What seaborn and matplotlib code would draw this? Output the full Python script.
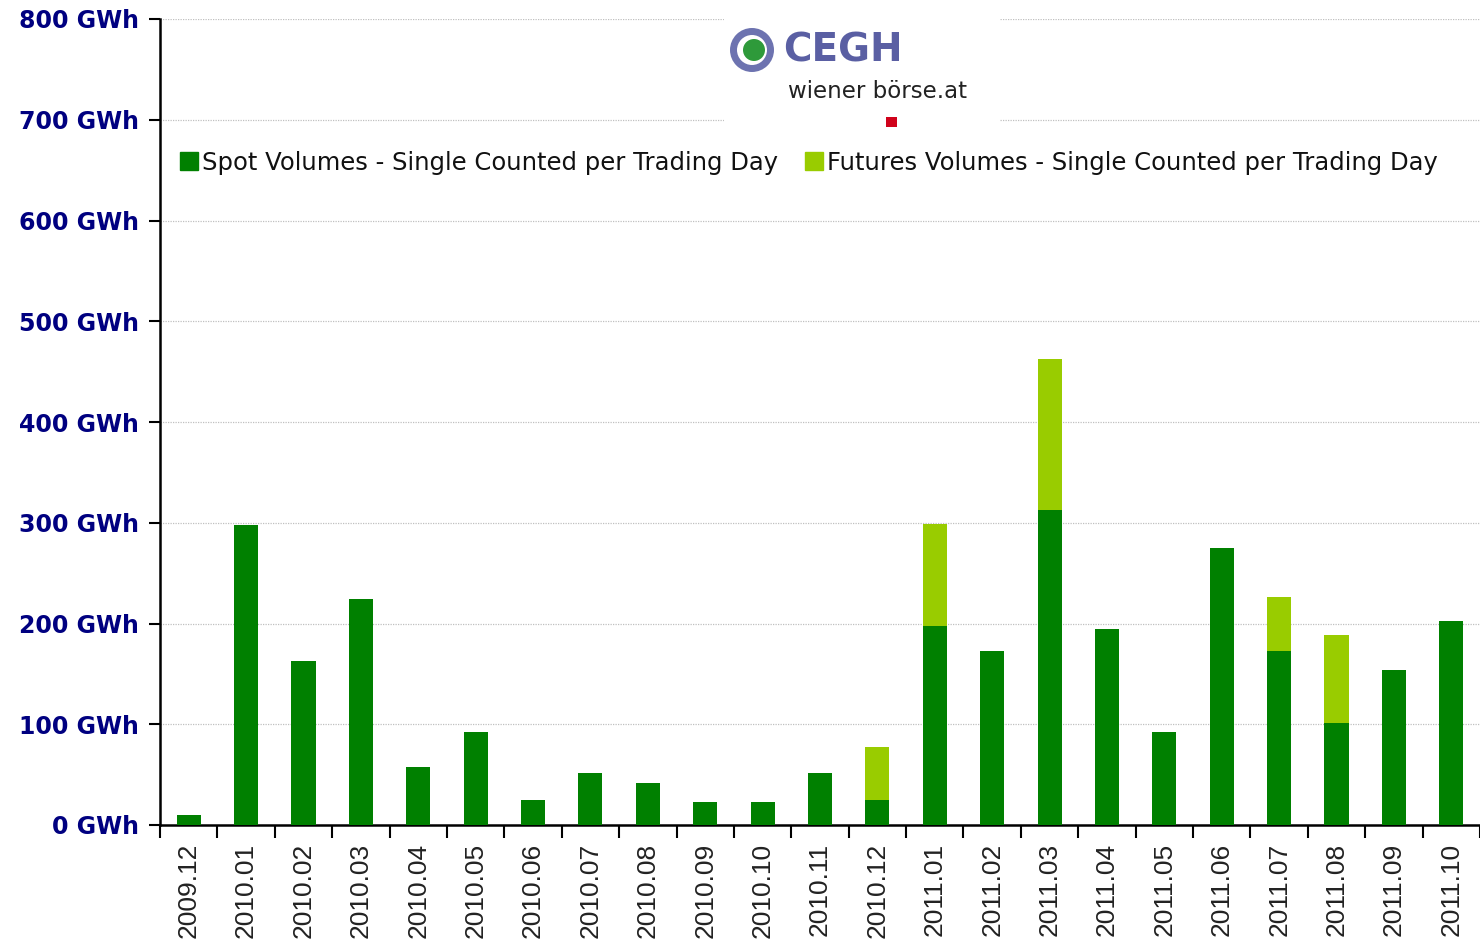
import matplotlib
matplotlib.use("Agg")
import matplotlib.pyplot as plt
import seaborn as sns
import pandas as pd
import numpy as np
from matplotlib.patches import Rectangle, Circle
from matplotlib.lines import Line2D

months = ["2009.12", "2010.01", "2010.02", "2010.03", "2010.04", "2010.05", "2010.06",
          "2010.07", "2010.08", "2010.09", "2010.10", "2010.11", "2010.12", "2011.01",
          "2011.02", "2011.03", "2011.04", "2011.05", "2011.06", "2011.07", "2011.08",
          "2011.09", "2011.10"]
spot = [10, 298, 163, 224, 58, 92, 25, 52, 42, 23, 23, 52, 25, 198,
        173, 313, 195, 92, 275, 173, 101, 154, 202]
futures = [0, 0, 0, 0, 0, 0, 0, 0, 0, 0, 0, 0, 52, 101,
           0, 150, 0, 0, 0, 53, 88, 0, 0]
y_ticks = [0, 100, 200, 300, 400, 500, 600, 700, 800]
y_labels = [f"{v} GWh" for v in y_ticks]

spot_name = "Spot Volumes - Single Counted per Trading Day"
fut_name = "Futures Volumes - Single Counted per Trading Day"
SPOT_C = "#008000"
FUT_C = "#99CC00"

df = pd.DataFrame({"month": months, "spot": spot, "futures": futures})
df["total"] = df["spot"] + df["futures"]

sns.set_style("white")
plt.rcParams["font.family"] = ["DejaVu Sans"]

fig = plt.figure(figsize=(14.8, 9.44), dpi=100)
ax = fig.add_axes([160 / 1480, 1 - 825 / 944, 1 - 160 / 1480, (825 - 19) / 944])

sns.barplot(data=df, x="month", y="total", color=FUT_C, width=0.42, saturation=1,
            ax=ax, zorder=3, linewidth=0, edgecolor="none")
sns.barplot(data=df, x="month", y="spot", color=SPOT_C, width=0.42, saturation=1,
            ax=ax, zorder=4, linewidth=0, edgecolor="none")

ax.set_xlim(-0.5, len(months) - 0.5)
ax.set_ylim(0, 800)
ax.set_xlabel("")
ax.set_ylabel("")

ax.set_yticks(y_ticks)
ax.set_yticklabels(y_labels, fontsize=17, fontweight="bold", color="#000080")
ax.tick_params(axis="y", direction="out", length=8, width=1.5, color="black", pad=7, left=True)

ax.set_xticks(range(len(months)))
ax.set_xticklabels(months, rotation=90, fontsize=19, family="Liberation Sans", color="#222222")
ax.tick_params(axis="x", which="major", length=0, pad=13)
ax.set_xticks(np.arange(-0.5, len(months)), minor=True)
ax.tick_params(axis="x", which="minor", direction="out", length=9, width=1.5, color="black", bottom=True)

for v in y_ticks[1:]:
    ax.axhline(v, color="#c0c0c0", lw=0.9, ls=(0, (1, 1)), zorder=1)

for s in ["top", "right"]:
    ax.spines[s].set_visible(False)
for s in ["left", "bottom"]:
    ax.spines[s].set_color("black")
    ax.spines[s].set_linewidth(1.8)

handles = [Line2D([], [], marker="s", ls="", markersize=13, markerfacecolor=SPOT_C, markeredgecolor=SPOT_C),
           Line2D([], [], marker="s", ls="", markersize=13, markerfacecolor=FUT_C, markeredgecolor=FUT_C)]
leg = ax.legend(handles, [spot_name, fut_name], ncol=2, frameon=False, fontsize=17.5,
                loc="upper left", bbox_to_anchor=((166 - 160) / 1320, 1 - (141 - 19) / 806),
                handletextpad=0.0, columnspacing=0.9, borderaxespad=0, handlelength=1.1)
for t in leg.get_texts():
    t.set_color("#111111")

# logo block
fig.patches.append(Rectangle((724 / 1480, 1 - 132 / 944), 276 / 1480, 120 / 944,
                             transform=fig.transFigure, facecolor="white", edgecolor="none", zorder=5))
fig.patches.append(Circle((752, 944 - 50), 22, transform=None, facecolor="#6d73b0",
                          edgecolor="none", zorder=6))
fig.patches.append(Circle((752, 944 - 50), 15, transform=None, facecolor="white",
                          edgecolor="none", zorder=7))
fig.patches.append(Circle((754, 944 - 50), 11, transform=None, facecolor="#2e9a3a",
                          edgecolor="none", zorder=8))
fig.text(783 / 1480, 1 - 50 / 944, "CEGH", fontsize=28, fontweight="heavy", color="#5a5fa3",
         va="center", ha="left", zorder=9, family="DejaVu Sans")
fig.text(788 / 1480, 1 - 92 / 944, "wiener börse.at", fontsize=16.5, color="#222222",
         va="center", ha="left", zorder=9)
fig.patches.append(Rectangle((886 / 1480, 1 - 127 / 944), 11 / 1480, 10 / 944,
                             transform=fig.transFigure, facecolor="#d0021b", edgecolor="none", zorder=9))

fig.savefig("out.png", dpi=100)
